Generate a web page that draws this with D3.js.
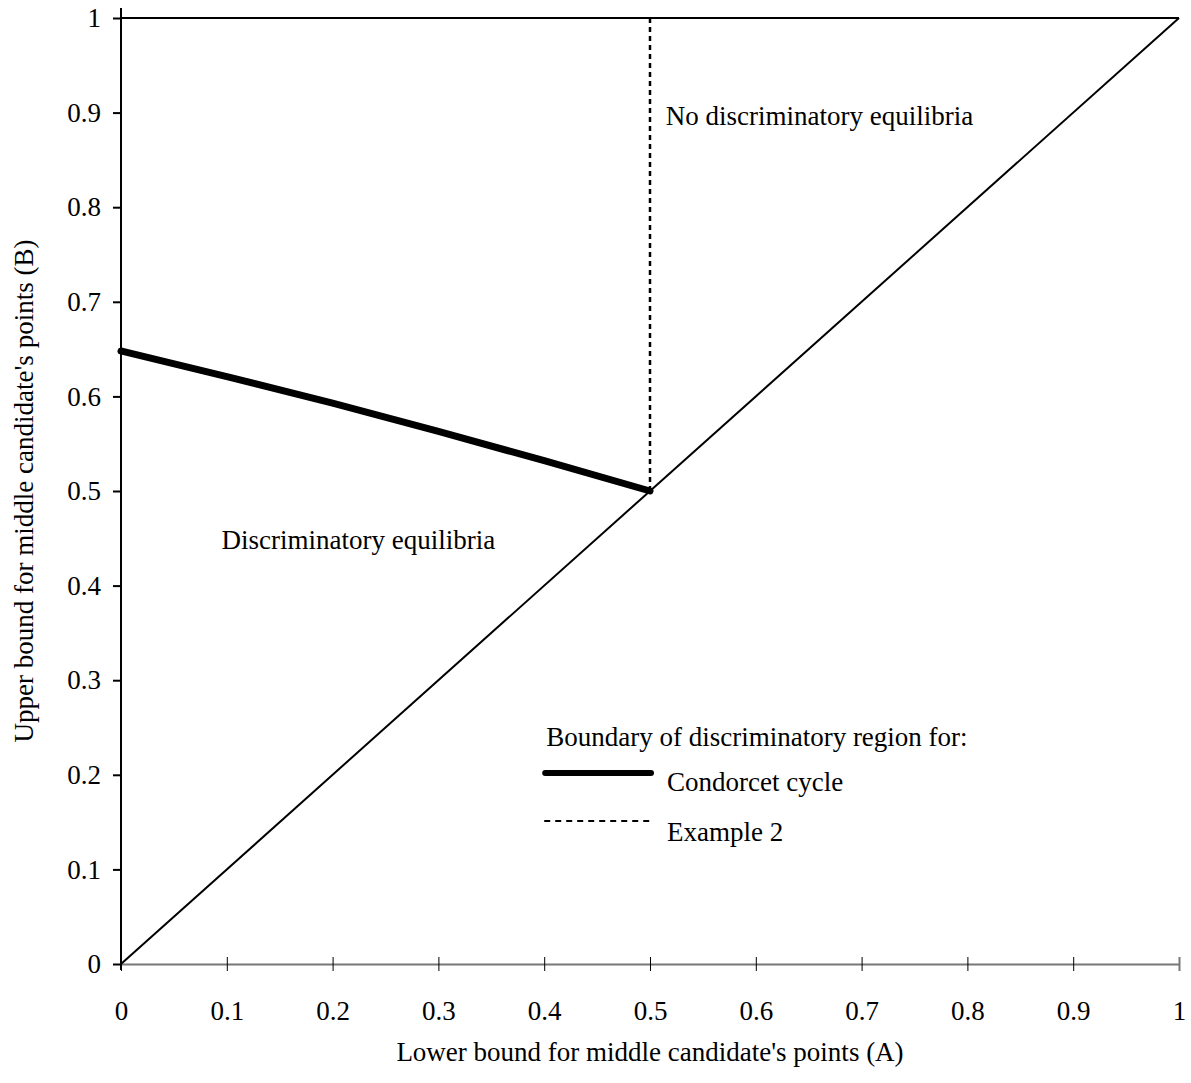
<!DOCTYPE html>
<html>
<head>
<meta charset="utf-8">
<script src="https://cdn.jsdelivr.net/npm/d3@7"></script>
<style>
  body { margin: 0; background: #fff; }
  text { font-family: "Liberation Serif", "Times New Roman", serif; fill: #000; }
</style>
</head>
<body>
<svg id="chart" width="1191" height="1083"></svg>
<script>
// data
const xTicks = [0, 0.1, 0.2, 0.3, 0.4, 0.5, 0.6, 0.7, 0.8, 0.9, 1];
const yTicks = [0, 0.1, 0.2, 0.3, 0.4, 0.5, 0.6, 0.7, 0.8, 0.9, 1];
const condorcetA = [0, 0.1, 0.2, 0.3, 0.4, 0.5];
const condorcetB = [0.648, 0.621, 0.593, 0.563, 0.532, 0.5];
const example2A = [0.5, 0.5];
const example2B = [0.5, 1];
const diagonalA = [0, 1];
const diagonalB = [0, 1];
const topA = [0, 1];
const topB = [1, 1];

const fontSize = '27px';
const margin = { top: 18, right: 12, left: 121, bottom: 119 };
const width = 1191 - margin.left - margin.right;
const height = 1083 - margin.top - margin.bottom;

const svg = d3.select('#chart');
const g = svg.append('g')
    .attr('transform', `translate(${margin.left}, ${margin.top})`);

const xScale = d3.scaleLinear().domain([0, 1]).range([0, width]);
const yScale = d3.scaleLinear().domain([0, 1]).range([height, 0]);

const line = d3.line()
    .x(d => xScale(d[0]))
    .y(d => yScale(d[1]));

const zip = (a, b) => a.map((v, i) => [v, b[i]]);

// x axis (grey line, ticks crossing)
const xAxis = d3.axisBottom(xScale)
    .tickValues(xTicks)
    .tickSizeInner(0)
    .tickSizeOuter(0)
    .tickFormat(d3.format('~g'));
const xg = g.append('g')
    .attr('class', 'xAxis')
    .attr('transform', `translate(0,${height})`)
    .call(xAxis);
xg.select('.domain').attr('stroke', '#777').attr('stroke-width', 2);
xg.selectAll('.tick line')
    .attr('y1', -7).attr('y2', 7)
    .attr('stroke', '#000').attr('stroke-width', 1);
xg.selectAll('.tick:last-of-type line').attr('stroke', '#777').attr('stroke-width', 2);
xg.selectAll('.tick text')
    .attr('y', 56).attr('dy', 0)
    .style('font-size', fontSize)
    .style('font-family', '"Liberation Serif", serif');

// y axis
const yAxis = d3.axisLeft(yScale)
    .tickValues(yTicks)
    .tickSize(8)
    .tickSizeOuter(0)
    .tickPadding(12)
    .tickFormat(d3.format('~g'));
const yg = g.append('g')
    .attr('class', 'yAxis')
    .call(yAxis);
yg.select('.domain').attr('stroke-width', 2)
    .attr('d', `M0,${yScale(0) + 6}V${yScale(1) - 10}`);
yg.selectAll('.tick line').attr('stroke-width', 2);
yg.selectAll('.tick text')
    .style('font-size', fontSize)
    .style('font-family', '"Liberation Serif", serif');

// top border and diagonal
g.append('path').datum(zip(topA, topB))
    .attr('d', line).attr('fill', 'none')
    .attr('stroke', '#000').attr('stroke-width', 2);
g.append('path').datum(zip(diagonalA, diagonalB))
    .attr('d', line).attr('fill', 'none')
    .attr('stroke', '#000').attr('stroke-width', 2);

// example 2 boundary
g.append('path').datum(zip(example2A, example2B))
    .attr('d', line).attr('fill', 'none')
    .attr('stroke', '#000').attr('stroke-width', 2.5)
    .attr('stroke-dasharray', '5,4');

// condorcet boundary
g.append('path').datum(zip(condorcetA, condorcetB))
    .attr('d', d3.line().x(d => xScale(d[0])).y(d => yScale(d[1])).curve(d3.curveMonotoneX))
    .attr('fill', 'none')
    .attr('stroke', '#000').attr('stroke-width', 7)
    .attr('stroke-linecap', 'round');

// region labels
g.append('text')
    .attr('x', xScale(0.515)).attr('y', 125 - margin.top)
    .style('font-size', fontSize)
    .text('No discriminatory equilibria');
g.append('text')
    .attr('x', xScale(0.095)).attr('y', 549 - margin.top)
    .style('font-size', fontSize)
    .text('Discriminatory equilibria');

// legend
const lx0 = xScale(0.4), lx1 = xScale(0.5);
g.append('text')
    .attr('x', lx0 + 2).attr('y', 746 - margin.top)
    .style('font-size', fontSize)
    .text('Boundary of discriminatory region for:');
g.append('line')
    .attr('x1', lx0 + 1).attr('x2', lx1 + 1)
    .attr('y1', 773 - margin.top).attr('y2', 773 - margin.top)
    .attr('stroke', '#000').attr('stroke-width', 6).attr('stroke-linecap', 'round');
g.append('text')
    .attr('x', lx1 + 17).attr('y', 791 - margin.top)
    .style('font-size', fontSize)
    .text('Condorcet cycle');
g.append('line')
    .attr('x1', lx0).attr('x2', lx1 + 2)
    .attr('y1', 821 - margin.top).attr('y2', 821 - margin.top)
    .attr('stroke', '#000').attr('stroke-width', 2)
    .attr('stroke-dasharray', '6,5');
g.append('text')
    .attr('x', lx1 + 17).attr('y', 841 - margin.top)
    .style('font-size', fontSize)
    .text('Example 2');

// axis titles
svg.append('text')
    .attr('x', margin.left + xScale(0.5)).attr('y', 1061)
    .attr('text-anchor', 'middle')
    .style('font-size', fontSize)
    .text("Lower bound for middle candidate's points (A)");
svg.append('text')
    .attr('transform', `translate(33, ${margin.top + yScale(0.5)}) rotate(-90)`)
    .attr('text-anchor', 'middle')
    .style('font-size', fontSize)
    .text("Upper bound for middle candidate's points (B)");
</script>
</body>
</html>
